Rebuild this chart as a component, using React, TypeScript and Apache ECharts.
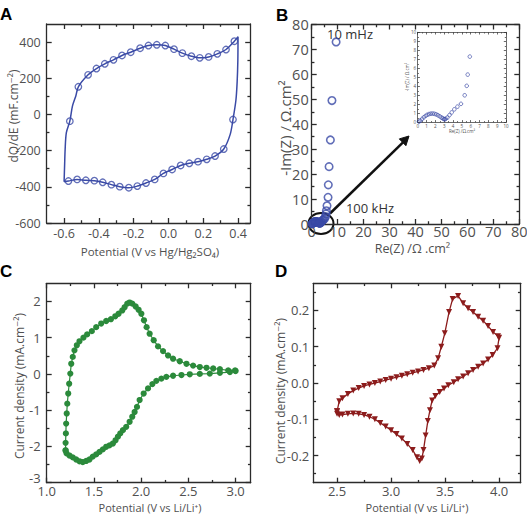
import React, { useEffect, useRef } from "react";
import * as echarts from "echarts";

const FONT = "'Open Sans', 'DejaVu Sans', sans-serif";
const INK = "#505050";
const FRAME = "#2b2b2b";
const BLUE = "#3a4aa6";
const GREEN = "#2b8a3b";
const RED = "#8c1c1c";

// ---------- A: differential capacitance vs potential ----------
const aXMajor = [-0.6, -0.4, -0.2, 0, 0.2, 0.4];
const aXMinor = [-0.5, -0.3, -0.1, 0.1, 0.3];
const aYMajor = [-600, -400, -200, 0, 200, 400];
const aYMinor = [-500, -300, -100, 100, 300];
// markers on the anodic sweep (left to right)
const aUpper: number[][] = [
  [-0.567, -37], [-0.518, 153], [-0.462, 219], [-0.414, 254], [-0.366, 280],
  [-0.316, 302], [-0.267, 326], [-0.217, 344], [-0.163, 366], [-0.115, 381],
  [-0.067, 385], [-0.018, 381], [0.032, 361], [0.08, 339], [0.132, 322],
  [0.18, 313], [0.231, 318], [0.281, 335], [0.331, 359], [0.379, 405],
];
// markers on the cathodic sweep (right to left)
const aLower: number[][] = [
  [0.371, -28], [0.318, -191], [0.268, -230], [0.22, -248], [0.17, -261],
  [0.12, -270], [0.07, -282], [0.021, -304], [-0.029, -326], [-0.079, -359],
  [-0.129, -379], [-0.179, -396], [-0.228, -405], [-0.28, -399], [-0.328, -388],
  [-0.378, -375], [-0.426, -366], [-0.475, -364], [-0.525, -359], [-0.575, -368],
];
// extra curve vertices at the two switching potentials
const aTurnLow: number[][] = [[-0.6, -372], [-0.597, -280], [-0.594, -193], [-0.587, -101]];
const aRiseLow: number[][] = [[-0.552, 46], [-0.533, 101]];
const aTurnHigh: number[][] = [[0.4, 430], [0.399, 300], [0.395, 180], [0.388, 80]];
const aFallHigh: number[][] = [[0.355, -110]];

// ---------- B: Nyquist plot ----------
const bMajor = [0, 10, 20, 30, 40, 50, 60, 70, 80];
const bMinor = [5, 15, 25, 35, 45, 55, 65, 75];
const bLowFreq: number[][] = [
  [0.15, 0.07], [0.3, 0.2], [0.5, 0.38], [0.7, 0.56], [0.9, 0.72], [1.1, 0.84],
  [1.3, 0.92], [1.5, 0.96], [1.7, 0.97], [1.9, 0.94], [2.1, 0.88], [2.3, 0.78],
  [2.5, 0.66], [2.7, 0.53], [2.85, 0.43], [2.97, 0.36], [3.08, 0.33], [3.17, 0.4],
  [3.36, 0.52], [3.6, 0.8], [3.85, 1.1], [4.15, 1.44], [4.5, 1.74], [4.9, 2.05],
  [5.32, 3.0], [5.55, 4.05], [5.66, 5.3], [5.9, 7.3],
];
const bHighFreq: number[][] = [
  [6.3, 10.7], [6.4, 15.7], [6.7, 23], [7.2, 33.7], [7.8, 49.5], [9.4, 73],
];
const insetMajor = [0, 1, 2, 3, 4, 5, 6, 7, 8, 9, 10];
const insetMinor = [0.5, 1.5, 2.5, 3.5, 4.5, 5.5, 6.5, 7.5, 8.5, 9.5];

// ---------- C: CV vs Li/Li+ (green) ----------
const cXMajor = [1.0, 1.5, 2.0, 2.5, 3.0];
const cXMinor = [1.25, 1.75, 2.25, 2.75];
const cYMajor = [-3, -2, -1, 0, 1, 2];
const cYMinor = [-2.5, -1.5, -0.5, 0.5, 1.5];
const cAnodic: number[][] = [
  [1.2, -2.1], [1.2, -1.9], [1.203, -1.64], [1.206, -1.37], [1.212, -1.09],
  [1.218, -0.82], [1.228, -0.54], [1.238, -0.27], [1.25, 0.01], [1.26, 0.28],
  [1.276, 0.47], [1.294, 0.65], [1.319, 0.79], [1.347, 0.9], [1.389, 1.0],
  [1.428, 1.09], [1.478, 1.18], [1.524, 1.29], [1.577, 1.39], [1.63, 1.46],
  [1.68, 1.51], [1.726, 1.59], [1.761, 1.66], [1.8, 1.75], [1.825, 1.84],
  [1.853, 1.94], [1.878, 1.97], [1.906, 1.94], [1.942, 1.86], [1.973, 1.77],
  [2.002, 1.66], [2.03, 1.48], [2.058, 1.29], [2.09, 1.11], [2.133, 0.93],
  [2.179, 0.76], [2.232, 0.63], [2.285, 0.51], [2.338, 0.42], [2.409, 0.35],
  [2.48, 0.28], [2.55, 0.23], [2.621, 0.19], [2.692, 0.17], [2.763, 0.15],
  [2.834, 0.13], [2.922, 0.1], [2.995, 0.1],
];
const cCathodic: number[][] = [
  [3.0, 0.08], [2.94, 0.05], [2.834, 0.03], [2.727, 0.01], [2.621, 0.0],
  [2.515, -0.01], [2.427, -0.03], [2.338, -0.05], [2.267, -0.08], [2.214, -0.13],
  [2.161, -0.19], [2.119, -0.28], [2.073, -0.4], [2.027, -0.54], [1.984, -0.72],
  [1.956, -0.91], [1.931, -1.05], [1.906, -1.18], [1.878, -1.32], [1.842, -1.46],
  [1.807, -1.55], [1.779, -1.64], [1.754, -1.73], [1.729, -1.83], [1.701, -1.92],
  [1.665, -1.97], [1.63, -2.01], [1.595, -2.08], [1.559, -2.15], [1.524, -2.22],
  [1.488, -2.28], [1.453, -2.36], [1.418, -2.4], [1.382, -2.43], [1.347, -2.41],
  [1.312, -2.36], [1.276, -2.3], [1.241, -2.25], [1.21, -2.19], [1.2, -2.12],
];

// ---------- D: CV vs Li/Li+ (red) ----------
const dXMajor = [2.5, 3.0, 3.5, 4.0];
const dXMinor = [2.75, 3.25, 3.75];
const dYMajor = [-0.2, -0.1, 0, 0.1, 0.2];
const dYMinor = [-0.25, -0.15, -0.05, 0.05, 0.15, 0.25];
const dAnodic: number[][] = [
  [2.5, -0.078], [2.52, -0.05], [2.55, -0.042], [2.6, -0.03], [2.65, -0.021],
  [2.7, -0.014], [2.75, -0.008], [2.8, -0.004], [2.85, 0.0], [2.9, 0.004],
  [2.95, 0.008], [3.0, 0.012], [3.05, 0.016], [3.1, 0.02], [3.15, 0.024],
  [3.2, 0.028], [3.25, 0.032], [3.3, 0.036], [3.35, 0.041], [3.4, 0.048],
  [3.435, 0.068], [3.465, 0.1], [3.497, 0.137], [3.537, 0.196], [3.57, 0.232],
  [3.62, 0.24], [3.667, 0.22], [3.713, 0.206], [3.759, 0.196], [3.806, 0.183],
  [3.852, 0.172], [3.898, 0.157], [3.944, 0.141], [3.99, 0.129], [4.0, 0.125],
];
const dCathodic: number[][] = [
  [3.985, 0.096], [3.94, 0.077], [3.898, 0.065], [3.852, 0.054], [3.806, 0.045],
  [3.759, 0.036], [3.713, 0.027], [3.667, 0.018], [3.62, 0.01], [3.58, 0.002],
  [3.53, -0.006], [3.49, -0.015], [3.45, -0.025], [3.41, -0.036], [3.38, -0.048],
  [3.36, -0.075], [3.34, -0.105], [3.32, -0.145], [3.3, -0.185], [3.285, -0.208],
  [3.265, -0.215], [3.24, -0.205], [3.2, -0.185], [3.15, -0.168], [3.1, -0.153],
  [3.05, -0.141], [3.0, -0.13], [2.95, -0.12], [2.9, -0.11], [2.85, -0.1],
  [2.8, -0.093], [2.75, -0.088], [2.7, -0.085], [2.65, -0.084], [2.6, -0.085],
  [2.55, -0.087], [2.52, -0.088], [2.5, -0.085],
];

type Fmt = (v: number) => string;
const fixed1: Fmt = (v) => v.toFixed(1);
const whole: Fmt = (v) => String(Math.round(v));
// the lowest current label sits just above the corner, clear of "1.0"
const cYFmt: Fmt = (v) => (v === -3 ? "{lift|-3}" : String(Math.round(v)));

// Four axes per dimension: labelled major ticks, minor ticks, and the mirrored
// top/right frame edge with its own major/minor ticks.
function frameAxes(
  dim: "x" | "y", gridIndex: number, min: number, max: number,
  major: number[], minor: number[], fmt: Fmt, fontSize: number,
  margin: number, tickLen: number, lw: number
) {
  const line = { color: FRAME, width: lw };
  const near = dim === "x" ? "bottom" : "left";
  const far = dim === "x" ? "top" : "right";
  const base = {
    type: "value", gridIndex, min, max,
    splitLine: { show: false }, splitArea: { show: false },
  };
  const tick = (vals: number[], len: number) => ({
    show: true, inside: true, length: len, customValues: vals, lineStyle: line,
  });
  const noLabel = { show: false };
  return [
    {
      ...base, position: near,
      axisLine: { show: true, onZero: false, lineStyle: line },
      axisTick: tick(major, tickLen),
      axisLabel: {
        show: true, customValues: major, formatter: fmt, fontSize,
        lineHeight: fontSize, fontFamily: FONT, color: INK, margin,
        rich: {
          lift: { fontSize, fontFamily: FONT, color: INK, padding: [0, 0, 10, 0] },
        },
      },
    },
    {
      ...base, position: near, axisLine: { show: false, onZero: false },
      axisTick: tick(minor, tickLen * 0.55), axisLabel: noLabel,
    },
    {
      ...base, position: far,
      axisLine: { show: true, onZero: false, lineStyle: line },
      axisTick: tick(major, tickLen), axisLabel: noLabel,
    },
    {
      ...base, position: far, axisLine: { show: false, onZero: false },
      axisTick: tick(minor, tickLen * 0.55), axisLabel: noLabel,
    },
  ];
}

function title(x: number, y: number, text: string, vertical: boolean, size: number, fill = INK) {
  return {
    type: "text", x, y, rotation: vertical ? Math.PI / 2 : 0,
    style: {
      text, align: "center", verticalAlign: "middle", fill,
      fontFamily: FONT, fontSize: size,
    },
  };
}

function panelLetter(x: number, y: number, text: string) {
  return {
    type: "text", x, y,
    style: {
      text, fill: "#000", fontFamily: "'Liberation Sans', Arial, sans-serif",
      fontWeight: "bold", fontSize: 17, align: "left", verticalAlign: "top",
    },
  };
}

export default function App() {
  const ref = useRef<HTMLDivElement>(null);

  useEffect(() => {
    if (!ref.current) return;
    const chart = echarts.init(ref.current, undefined, { renderer: "svg" });

    const aPath = [
      ...aTurnLow, aUpper[0], ...aRiseLow, ...aUpper.slice(1),
      ...aTurnHigh, aLower[0], ...aFallHigh, ...aLower.slice(1), aTurnLow[0],
    ];
    const aMarkers = [...aUpper, ...aLower];
    const bPoints = [...bLowFreq, ...bHighFreq];
    const cPath = [...cAnodic, ...cCathodic];
    const dPath = [...dAnodic, ...dCathodic, dAnodic[0]];

    const grids = [
      { left: 46.7, top: 24, width: 203.5, height: 199 },
      { left: 311.7, top: 24.5, width: 207.6, height: 199.5 },
      { left: 46.7, top: 283.3, width: 204, height: 199.4 },
      { left: 313.3, top: 283.3, width: 207.4, height: 199.4 },
      { left: 417.7, top: 32.3, width: 88.3, height: 90 },
    ].map((g) => ({ ...g, containLabel: false, outerBoundsMode: "none" }));

    const xAxis = [
      ...frameAxes("x", 0, -0.7, 0.47, aXMajor, aXMinor, fixed1, 12.5, 4, 5, 1.3),
      ...frameAxes("x", 1, 0, 80, bMajor, bMinor, whole, 14.5, 0.5, 5, 1.3),
      ...frameAxes("x", 2, 1.0, 3.16, cXMajor, cXMinor, fixed1, 13, 1.5, 5, 1.3),
      ...frameAxes("x", 3, 2.28, 4.2, dXMajor, dXMinor, fixed1, 13, 1.8, 5, 1.3),
      ...frameAxes("x", 4, 0, 10, insetMajor, insetMinor, whole, 4.5, 1.5, 2.2, 0.7),
    ];
    const yAxis = [
      ...frameAxes("y", 0, -600, 500, aYMajor, aYMinor, whole, 12.5, 6, 5, 1.3),
      ...frameAxes("y", 1, 0, 80, bMajor, bMinor, whole, 14.5, 3, 5, 1.3),
      ...frameAxes("y", 2, -3, 2.5, cYMajor, cYMinor, cYFmt, 13, 6, 5, 1.3),
      ...frameAxes("y", 3, -0.275, 0.275, dYMajor, dYMinor, fixed1, 13, 4, 5, 1.3),
      ...frameAxes("y", 4, 0, 10, insetMajor, insetMinor, whole, 4.5, 1.5, 2.2, 0.7),
    ];

    const openCircle = (size: number, bw: number) => ({
      symbol: "circle", symbolSize: size,
      itemStyle: { color: "rgba(255,255,255,0)", borderColor: BLUE, borderWidth: bw },
    });

    chart.setOption({
      animation: false,
      backgroundColor: "#ffffff",
      grid: grids,
      xAxis,
      yAxis,
      series: [
        {
          type: "line", xAxisIndex: 0, yAxisIndex: 0, data: aPath, smooth: 0.3,
          symbol: "none", lineStyle: { color: BLUE, width: 1.5 }, silent: true,
        },
        {
          type: "scatter", xAxisIndex: 0, yAxisIndex: 0, data: aMarkers,
          symbol: "circle", symbolSize: 6.5,
          itemStyle: { color: "#ffffff", borderColor: BLUE, borderWidth: 1.3 },
        },
        {
          type: "scatter", xAxisIndex: 4, yAxisIndex: 4, data: bPoints, clip: true,
          ...openCircle(7.5, 1.6),
        },
        {
          type: "line", xAxisIndex: 8, yAxisIndex: 8, data: cPath, showAllSymbol: true,
          symbol: "circle", symbolSize: 6.2,
          itemStyle: { color: GREEN }, lineStyle: { color: GREEN, width: 1.2 },
        },
        {
          type: "line", xAxisIndex: 12, yAxisIndex: 12, data: dPath, showAllSymbol: true,
          symbol: "triangle", symbolRotate: 180, symbolSize: 6,
          itemStyle: { color: RED }, lineStyle: { color: RED, width: 1.3 },
        },
        {
          type: "scatter", xAxisIndex: 16, yAxisIndex: 16, data: bPoints, clip: true,
          ...openCircle(3.6, 0.9),
        },
      ],
      graphic: [
        panelLetter(0, 6, "A"),
        panelLetter(276, 7, "B"),
        panelLetter(0, 263, "C"),
        panelLetter(275, 263, "D"),

        title(13, 116, "dQ/dE (mF.cm⁻²)", true, 12),
        title(150, 251, "Potential (V vs Hg/Hg₂SO₄)", false, 11.5),
        title(285, 128, "-Im(Z) / Ω.cm²", true, 15),
        title(412.5, 248, "Re(Z) /Ω .cm²", false, 12.5),
        title(19.5, 386, "Current density (mA.cm⁻²)", true, 12),
        title(150, 507, "Potential (V vs Li/Li⁺)", false, 11),
        title(280, 391, "Current density (mA.cm⁻²)", true, 12),
        title(417, 507, "Potential (V vs Li/Li⁺)", false, 11),
        title(462, 131, "Re(Z) /Ω.cm²", false, 4.5),
        title(407, 77, "-Im(Z) / Ω.cm²", true, 4.5),

        title(350, 34, "10 mHz", false, 13, "#333"),
        title(370, 208, "100 kHz", false, 13, "#333"),
        {
          type: "ellipse", shape: { cx: 321, cy: 223.5, rx: 12.5, ry: 10.5 },
          style: { fill: "none", stroke: "#111", lineWidth: 2 },
        },
        {
          type: "line", shape: { x1: 330, y1: 213.5, x2: 403, y2: 142.3 },
          style: { stroke: "#111", lineWidth: 2.5 },
        },
        {
          type: "polygon", shape: { points: [[409, 136], [405.9, 145.7], [399.3, 138.9]] },
          style: { fill: "#111", stroke: "#111", lineWidth: 1 },
        },
      ],
    });

    return () => chart.dispose();
  }, []);

  return (
    <div
      ref={ref}
      style={{ position: "fixed", left: 0, top: 0, width: 527, height: 520, background: "#fff" }}
    />
  );
}
